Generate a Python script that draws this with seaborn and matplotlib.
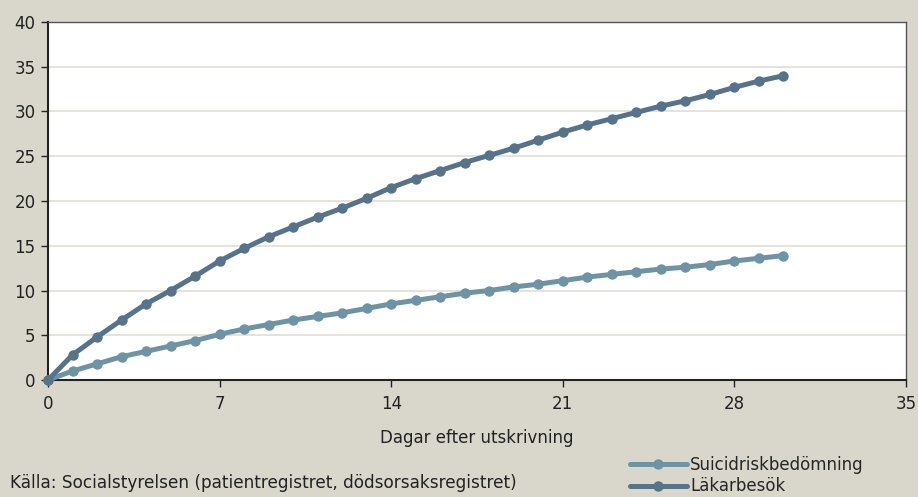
import numpy as np
import pandas as pd
import matplotlib
matplotlib.use("Agg")
import matplotlib.pyplot as plt
import seaborn as sns
from matplotlib.lines import Line2D

days = list(range(0, 31))
lakarbesok = [0, 2.8, 4.8, 6.7, 8.5, 10.0, 11.6, 13.3, 14.7, 16.0, 17.1, 18.2, 19.2, 20.3,
              21.5, 22.5, 23.4, 24.3, 25.1, 25.9, 26.8, 27.7, 28.5, 29.2, 29.9, 30.6,
              31.2, 31.9, 32.7, 33.4, 34.0]
suicidrisk = [0, 1.0, 1.8, 2.6, 3.2, 3.8, 4.4, 5.1, 5.7, 6.2, 6.7, 7.1, 7.5, 8.0, 8.5,
              8.9, 9.3, 9.7, 10.0, 10.4, 10.7, 11.1, 11.5, 11.8, 12.1, 12.4, 12.6,
              12.9, 13.3, 13.6, 13.9]
series_names = ["Suicidriskbedömning", "Läkarbesök"]
x_ticks = [0, 7, 14, 21, 28, 35]
y_ticks = [0, 5, 10, 15, 20, 25, 30, 35, 40]

df = pd.DataFrame({
    "Dag": days * 2,
    "Värde": suicidrisk + lakarbesok,
    "Serie": [series_names[0]] * len(days) + [series_names[1]] * len(days),
})

sns.set_style("white")
plt.rcParams["font.family"] = ["DejaVu Sans"]
bg = "#D9D7CB"
colors = {series_names[0]: "#6E93A5", series_names[1]: "#56738A"}

fig = plt.figure(figsize=(9.18, 4.97), dpi=100, facecolor=bg)
ax = fig.add_axes([48 / 918, 1 - 380 / 497, (906 - 48) / 918, (380 - 22) / 497])
ax.set_facecolor("white")

sns.lineplot(data=df, x="Dag", y="Värde", hue="Serie", palette=colors, marker="o",
             markersize=7.5, markeredgewidth=0, linewidth=3.6, ax=ax, legend=False,
             clip_on=False, zorder=3)

ax.set_xlim(0, 35)
ax.set_ylim(0, 40)
ax.set_xticks(x_ticks)
ax.set_yticks(y_ticks)
ax.yaxis.grid(True, color="#E3E1D7", linewidth=1.3)
ax.xaxis.grid(False)
ax.tick_params(axis="both", labelsize=12, colors="#222222", length=5, width=1,
               direction="out", left=True, bottom=True)
ax.tick_params(axis="y", pad=4)
ax.tick_params(axis="x", pad=6)
for s in ["left", "bottom"]:
    ax.spines[s].set_color("#222222")
    ax.spines[s].set_linewidth(1.5)
for s in ["top", "right"]:
    ax.spines[s].set_color("#555555")
    ax.spines[s].set_linewidth(1.0)
ax.set_xlabel("Dagar efter utskrivning", fontsize=12, color="#222222", labelpad=11)
ax.set_ylabel("")

handles = [Line2D([], [], color=colors[n], linewidth=3.6, marker="o", markersize=7.5,
                  markeredgewidth=0) for n in series_names]
fig.legend(handles, series_names, loc="upper left", bbox_to_anchor=(630 / 918, 1 - 456 / 497),
           frameon=False, fontsize=12, handlelength=3.4, handletextpad=0.2,
           labelspacing=0.2, borderaxespad=0, borderpad=0)

fig.text(10 / 918, 1 - 483 / 497, "Källa: Socialstyrelsen (patientregistret, dödsorsaksregistret)",
         fontsize=12.2, color="#222222", va="center", ha="left")

fig.savefig("out.png", dpi=100, facecolor=bg)
